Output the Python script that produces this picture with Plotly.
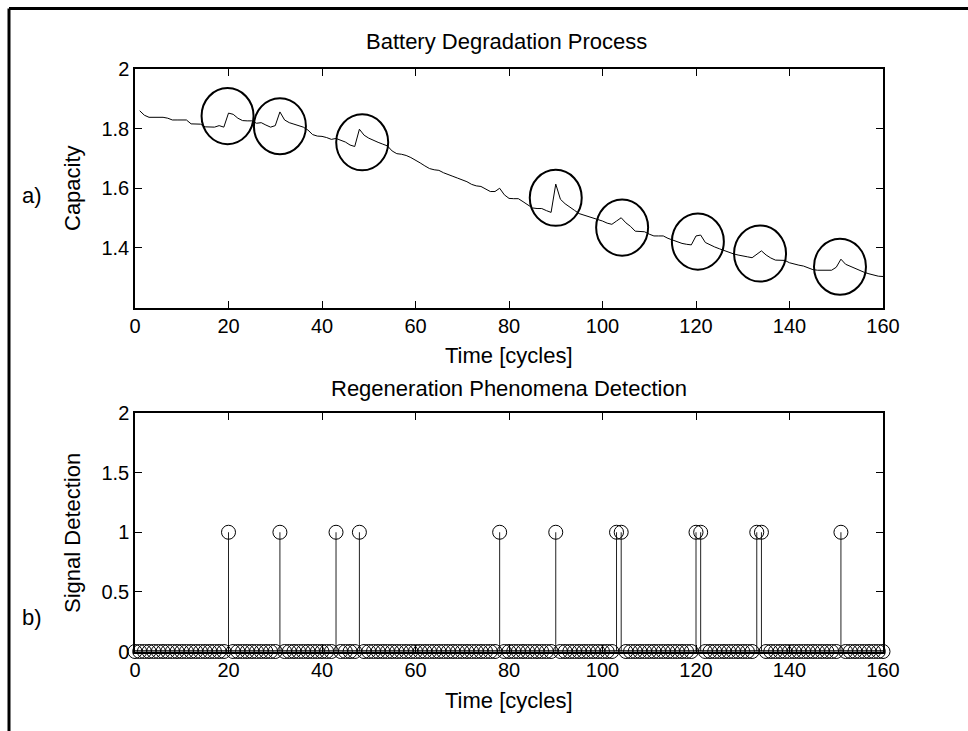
import plotly.graph_objects as go

# ---------------- data ----------------
cycles = list(range(1, 161))
capacity = [
    1.860, 1.845, 1.838, 1.838, 1.838, 1.838, 1.835, 1.829, 1.829, 1.829,
    1.829, 1.816, 1.815, 1.815, 1.806, 1.805, 1.805, 1.810, 1.805, 1.852,
    1.848, 1.835, 1.827, 1.826, 1.826, 1.818, 1.820, 1.812, 1.805, 1.810,
    1.856, 1.829, 1.820, 1.815, 1.810, 1.805, 1.795, 1.780, 1.775, 1.774,
    1.770, 1.764, 1.767, 1.760, 1.755, 1.745, 1.740, 1.798, 1.778, 1.768,
    1.760, 1.754, 1.748, 1.742, 1.725, 1.716, 1.714, 1.710, 1.703, 1.695,
    1.685, 1.675, 1.666, 1.662, 1.660, 1.652, 1.645, 1.640, 1.634, 1.628,
    1.622, 1.613, 1.608, 1.606, 1.598, 1.589, 1.589, 1.600, 1.578, 1.566,
    1.565, 1.565, 1.555, 1.545, 1.534, 1.532, 1.532, 1.525, 1.519, 1.614,
    1.563, 1.548, 1.538, 1.526, 1.515, 1.510, 1.506, 1.500, 1.495, 1.490,
    1.483, 1.479, 1.490, 1.501, 1.484, 1.472, 1.456, 1.454, 1.454, 1.446,
    1.440, 1.440, 1.440, 1.432, 1.426, 1.420, 1.415, 1.412, 1.410, 1.440,
    1.443, 1.418, 1.410, 1.403, 1.397, 1.391, 1.385, 1.380, 1.376, 1.372,
    1.370, 1.367, 1.380, 1.390, 1.376, 1.366, 1.359, 1.358, 1.358, 1.350,
    1.345, 1.342, 1.339, 1.334, 1.327, 1.325, 1.325, 1.325, 1.325, 1.335,
    1.362, 1.345, 1.338, 1.330, 1.325, 1.318, 1.313, 1.308, 1.305, 1.304,
]
# regeneration circles (centre cycle, centre capacity)
circle_x = [19.8, 31.0, 48.6, 90.0, 104.2, 120.4, 133.7, 150.8]
circle_y = [1.842, 1.808, 1.754, 1.568, 1.468, 1.421, 1.381, 1.337]

det_cycles = list(range(0, 161))
detections = [20, 31, 43, 48, 78, 90, 103, 104, 120, 121, 133, 134, 151]

x_ticks = [0, 20, 40, 60, 80, 100, 120, 140, 160]
y1_ticks = [1.4, 1.6, 1.8, 2]
y1_text = ["1.4", "1.6", "1.8", "2"]
y2_ticks = [0, 0.5, 1, 1.5, 2]
y2_text = ["0", "0.5", "1", "1.5", "2"]

signal = [1 if c in detections else 0 for c in det_cycles]

# ---------------- layout helpers ----------------
W, H = 968, 731
def px(x):
    return x / W
def py(y):
    return 1 - y / H

FONT = "Arial, Liberation Sans, sans-serif"
fig = go.Figure()

fig.add_trace(go.Scatter(x=cycles, y=capacity, mode="lines",
                         line=dict(color="black", width=1),
                         xaxis="x", yaxis="y", showlegend=False))

# stems
sx, sy = [], []
for c, v in zip(det_cycles, signal):
    if v:
        sx += [c, c, None]
        sy += [0, v, None]
fig.add_trace(go.Scatter(x=sx, y=sy, mode="lines",
                         line=dict(color="#222", width=1),
                         xaxis="x2", yaxis="y2", showlegend=False))
# baseline
fig.add_trace(go.Scatter(x=[det_cycles[0], det_cycles[-1]], y=[0, 0], mode="lines",
                         line=dict(color="black", width=2.5),
                         xaxis="x2", yaxis="y2", showlegend=False, cliponaxis=False))
fig.add_trace(go.Scatter(x=det_cycles, y=signal, mode="markers",
                         marker=dict(symbol="circle-open", size=14,
                                     color="black", line=dict(width=1, color="black")),
                         xaxis="x2", yaxis="y2", showlegend=False, cliponaxis=False))

shapes = []
rx, ry = 5.56, 0.094
for cx, cy in zip(circle_x, circle_y):
    shapes.append(dict(type="circle", xref="x", yref="y",
                       x0=cx - rx, x1=cx + rx, y0=cy - ry, y1=cy + ry,
                       line=dict(color="black", width=2)))
# outer frame (partially visible)
shapes.append(dict(type="line", xref="paper", yref="paper",
                   x0=px(9), x1=1.05, y0=py(8.5), y1=py(8.5),
                   line=dict(color="black", width=3)))
shapes.append(dict(type="line", xref="paper", yref="paper",
                   x0=px(9), x1=px(9), y0=py(8.5), y1=-0.05,
                   line=dict(color="black", width=3)))

axis_common = dict(showline=True, linecolor="black", linewidth=1.5, mirror="allticks",
                   ticks="inside", ticklen=7, tickcolor="black", tickwidth=1,
                   showgrid=False, zeroline=False, automargin=False,
                   tickfont=dict(family=FONT, size=20, color="black"))

xd = [px(135), px(883)]
fig.update_layout(
    width=W, height=H, autosize=False,
    margin=dict(l=0, r=0, t=0, b=0, pad=0),
    paper_bgcolor="white", plot_bgcolor="white",
    xaxis=dict(domain=xd, range=[0, 160], tickvals=x_ticks, anchor="y", **axis_common),
    yaxis=dict(domain=[py(307.5), py(69)], range=[1.2, 2], tickvals=y1_ticks,
               ticktext=y1_text, anchor="x", **axis_common),
    xaxis2=dict(domain=xd, range=[0, 160], tickvals=x_ticks, anchor="y2", **axis_common),
    yaxis2=dict(domain=[py(651.5), py(413)], range=[0, 2], tickvals=y2_ticks,
                ticktext=y2_text, anchor="x2", **axis_common),
    shapes=shapes,
)

def ann(text, x, y, size=22, angle=0):
    fig.add_annotation(text=text, x=px(x), y=py(y), xref="paper", yref="paper",
                       showarrow=False, textangle=angle, xanchor="center", yanchor="middle",
                       font=dict(family=FONT, size=size, color="black"))

ann("Battery Degradation Process", 506, 42)
ann("Time [cycles]", 509, 355)
ann("Regeneration Phenomena Detection", 509, 388)
ann("Time [cycles]", 509, 700)
ann("Capacity", 72, 188, angle=-90)
ann("Signal Detection", 72, 533, angle=-90)
ann("a)", 32, 195)
ann("b)", 32, 617)

fig.write_html("out.html", config={"displayModeBar": False},
               post_script="document.body.style.margin='0';document.body.style.overflow='hidden';")
